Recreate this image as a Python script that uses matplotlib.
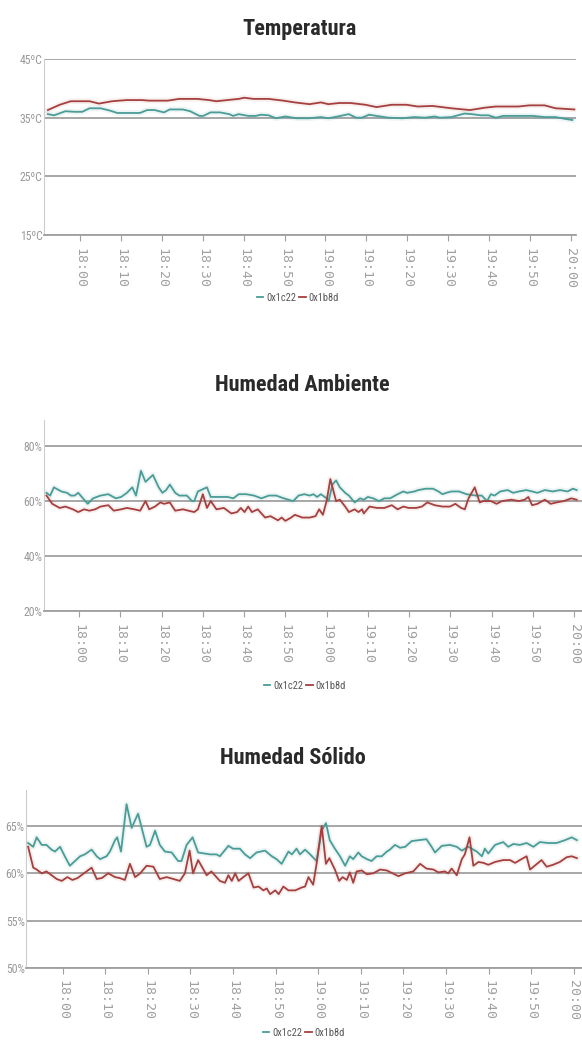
import numpy as np
import pandas as pd
import matplotlib
matplotlib.use('Agg')
import matplotlib.pyplot as plt
import matplotlib.dates as mdates
from matplotlib import font_manager

# fuente estrecha si existe
nombres = {f.name for f in font_manager.fontManager.ttflist}
fuente_titulo = 'DejaVu Sans'
for cand in ['Roboto Condensed', 'Open Sans Condensed', 'DejaVu Sans Condensed',
             'Liberation Sans Narrow', 'Roboto']:
    if cand in nombres:
        fuente_titulo = cand
        break

# minutos desde las 18:00 y valores de cada sensor
t_temp_1c22 = [-7.9, -6.4, -3.6, -1.4, 0.5, 2.3, 5.0, 7.3, 9.1, 14.6, 16.4, 18.2, 20.5, 21.9, 25.1, 26.9,
               29.2, 30.1, 31.9, 34.2, 36.5, 37.4, 38.8, 41.1, 42.9, 44.3, 46.1, 47.9, 50.2, 52.9, 56.1,
               58.9, 60.7, 63.0, 65.7, 67.5, 68.9, 70.7, 72.5, 75.3, 78.9, 81.7, 84.4, 86.7, 88.0, 90.8,
               94.0, 95.8, 98.1, 99.9, 101.7, 103.5, 108.1, 110.8, 113.6, 116.3, 118.6, 120.4]
temp_1c22 = [35.6, 35.4, 36.1, 36.0, 36.0, 36.6, 36.6, 36.2, 35.8, 35.8, 36.3, 36.3, 35.9, 36.4, 36.4, 36.1,
             35.3, 35.3, 35.9, 35.9, 35.6, 35.3, 35.6, 35.3, 35.3, 35.5, 35.4, 34.9, 35.2, 34.9, 34.9,
             35.1, 34.9, 35.2, 35.6, 35.0, 35.0, 35.5, 35.3, 35.0, 34.9, 35.1, 35.0, 35.2, 35.0, 35.1,
             35.7, 35.6, 35.4, 35.4, 35.0, 35.3, 35.3, 35.3, 35.1, 35.1, 34.8, 34.6]
t_temp_1b8d = [-7.9, -5.0, -2.3, 2.3, 4.6, 7.8, 11.4, 15.1, 16.9, 21.4, 24.2, 28.7, 31.5, 33.3, 36.0, 38.8,
               40.1, 42.4, 46.1, 49.7, 52.5, 56.1, 58.9, 60.7, 63.4, 66.1, 69.8, 72.5, 76.2, 79.8, 82.6,
               86.2, 90.8, 95.3, 96.3, 99.0, 101.7, 107.2, 109.9, 113.6, 116.3, 120.9]
temp_1b8d = [36.3, 37.2, 37.8, 37.8, 37.4, 37.8, 38.0, 38.0, 37.9, 37.9, 38.2, 38.2, 38.0, 37.8, 38.0, 38.2,
             38.4, 38.2, 38.2, 37.9, 37.6, 37.3, 37.6, 37.3, 37.5, 37.5, 37.2, 36.8, 37.2, 37.2, 36.9,
             37.0, 36.6, 36.3, 36.4, 36.7, 36.9, 36.9, 37.1, 37.1, 36.6, 36.4]

t_amb_1c22 = [-7.9, -7.0, -6.1, -4.3, -2.9, -2.0, -1.1, -0.2, 2.1, 3.4, 5.2, 7.1, 8.9, 10.2, 11.6, 12.9,
              13.8, 15.0, 16.1, 17.9, 19.3, 20.2, 21.1, 22.0, 23.3, 24.3, 26.1, 27.4, 27.9, 28.8, 31.0,
              31.9, 36.0, 37.4, 38.7, 40.5, 42.4, 44.2, 46.0, 47.8, 49.6, 51.9, 53.2, 54.6, 55.9, 56.8,
              57.7, 58.6, 60.0, 60.5, 61.4, 62.3, 63.2, 64.5, 65.4, 66.8, 68.1, 69.0, 70.0, 71.3, 72.7,
              74.0, 75.4, 77.2, 78.6, 79.5, 81.3, 82.2, 84.0, 85.8, 87.1, 88.1, 89.0, 90.3, 92.1, 93.9,
              96.2, 97.6, 98.9, 99.8, 100.7, 102.1, 103.9, 105.2, 106.6, 108.4, 109.8, 111.1, 112.9,
              114.8, 116.6, 118.4, 119.7, 120.6]
amb_1c22 = [63, 62, 65, 63.5, 63, 62, 62, 63, 59, 61, 62, 62.5, 61, 61.5, 63, 65,
            62, 71, 67, 69.5, 65, 63, 64, 66, 63, 62, 62, 60, 60, 63.5, 65,
            61.5, 61.5, 61, 62.5, 62.5, 62, 61, 62, 62, 61, 60, 62, 62.5, 62, 62.5,
            61.5, 62.5, 61, 60, 66, 67.5, 65, 63, 62, 59.5, 61, 60.5, 61.5, 61, 60,
            61, 61, 62.5, 63.5, 63, 63.5, 64, 64.5, 64.5, 63.5, 62.5, 63, 63.5, 63.5, 62.5,
            62, 62, 60, 62.5, 62, 63.5, 64, 63, 63.5, 64, 63.5, 63, 64,
            63.5, 64, 63.5, 64.5, 64]
t_amb_1b8d = [-7.9, -6.5, -4.7, -3.3, -1.5, -0.2, 1.2, 2.5, 3.9, 5.2, 7.1, 8.4, 10.2, 11.6, 13.4, 14.8,
              16.1, 17.0, 18.4, 19.7, 20.6, 22.0, 23.3, 25.2, 26.5, 27.9, 28.8, 30.0, 31.0, 31.9, 33.3,
              35.1, 36.9, 38.3, 39.2, 40.1, 41.0, 41.9, 43.3, 45.1, 46.4, 48.2, 49.1, 50.0, 51.4, 52.3,
              54.1, 55.9, 57.3, 58.2, 59.1, 60.0, 60.9, 62.3, 63.2, 64.5, 65.4, 66.8, 67.7, 68.6, 69.0,
              70.4, 72.2, 74.0, 75.8, 77.2, 78.6, 79.9, 81.7, 83.1, 84.4, 86.2, 88.1, 89.9, 91.2, 92.6,
              93.5, 94.4, 95.9, 97.1, 98.0, 99.8, 101.2, 102.5, 104.8, 106.6, 108.0, 108.9, 109.8,
              111.1, 112.9, 114.3, 115.7, 117.5, 119.3, 120.6]
amb_1b8d = [62, 59, 57.5, 58, 57, 56, 57, 56.5, 57, 58, 58.5, 56.5, 57, 57.5, 57, 56.5,
            60, 57, 58, 59.5, 59, 59.5, 56.5, 57, 56.5, 56, 57, 62.5, 57.5, 60, 57,
            57.5, 55.5, 56, 57.5, 56, 58, 56, 57, 54, 54.5, 53, 54, 52.8, 54, 55,
            54, 54, 54.5, 57, 55, 60, 68, 60, 60.5, 58, 56, 57, 56, 57, 55.5,
            58, 57.5, 57.5, 58.5, 57, 58, 57.5, 57.5, 58, 59.5, 58.5, 58, 58, 59, 57.5,
            57, 61, 65, 59.5, 60, 60, 59, 60, 60.5, 60, 60.5, 61.5, 58.5,
            59, 60.5, 59, 59.5, 60, 61, 60.5]

t_sol_1c22 = [-8.1, -6.9, -6.1, -4.9, -3.8, -2.6, -1.8, -0.6, 0.5, 1.7, 2.9, 4.1, 5.2, 6.8, 8.0, 8.8,
              10.3, 11.1, 12.3, 12.8, 13.7, 15.0, 16.2, 17.7, 19.7, 20.5, 21.7, 22.8, 24.0, 25.6, 27.1,
              27.9, 29.1, 30.5, 31.8, 34.6, 36.1, 36.9, 38.9, 40.0, 41.6, 42.8, 44.0, 45.5, 47.5, 49.1,
              50.2, 51.4, 53.0, 53.8, 54.9, 55.7, 56.9, 58.1, 59.6, 60.8, 61.8, 62.7, 63.9, 65.1, 66.3,
              67.4, 68.2, 69.4, 70.2, 71.4, 72.5, 73.7, 74.9, 76.1, 76.8, 78.0, 79.2, 80.4, 81.9, 83.5,
              85.4, 86.6, 87.4, 89.0, 90.9, 92.5, 93.7, 95.2, 97.2, 98.4, 99.1, 99.9, 101.5, 103.4,
              104.6, 105.8, 107.3, 108.9, 110.5, 112.0, 114.0, 115.9, 117.9, 119.5, 120.7]
sol_1c22 = [63.2, 62.8, 63.8, 63.0, 63.0, 62.5, 62.3, 62.8, 61.8, 60.8, 61.3, 61.8, 62.0, 62.5, 61.8, 61.5,
            61.8, 62.3, 63.5, 63.8, 62.3, 67.3, 64.8, 66.3, 62.8, 63.0, 64.5, 63.0, 62.3, 62.2, 61.3,
            61.3, 63.0, 63.8, 62.2, 62.0, 62.0, 61.8, 62.9, 62.6, 62.6, 62.0, 61.6, 62.2, 62.4, 61.8,
            61.5, 61.0, 62.3, 62.0, 62.6, 62.0, 62.5, 62.0, 61.3, 64.5, 65.3, 63.5, 62.6, 61.8, 60.8,
            61.8, 61.5, 62.2, 61.8, 61.5, 61.3, 61.8, 61.8, 62.3, 62.5, 63.0, 62.7, 62.8, 63.4, 63.5,
            63.6, 62.8, 62.2, 62.9, 63.0, 62.8, 62.4, 62.8, 62.3, 61.8, 62.6, 62.1, 63.0, 63.3,
            62.8, 63.1, 63.0, 63.2, 62.8, 63.3, 63.2, 63.2, 63.5, 63.8, 63.5]
t_sol_1b8d = [-8.1, -6.9, -6.1, -4.9, -3.8, -2.6, -1.4, -0.2, 1.1, 2.3, 3.5, 5.0, 6.2, 6.8, 8.0, 9.2,
              10.7, 12.3, 13.4, 14.6, 15.8, 17.0, 18.2, 19.7, 21.3, 22.8, 24.4, 26.0, 27.5, 28.7, 29.8,
              30.6, 31.8, 33.8, 34.9, 36.9, 38.1, 38.9, 39.7, 40.5, 41.3, 42.4, 43.6, 44.8, 46.0, 47.1,
              47.9, 48.7, 49.9, 50.7, 51.8, 53.0, 54.6, 56.1, 56.9, 57.7, 58.8, 59.6, 60.8, 61.8, 62.6,
              63.9, 64.9, 65.7, 66.7, 67.4, 68.2, 69.0, 70.2, 71.4, 72.9, 74.5, 76.1, 78.8, 80.4, 82.3,
              83.9, 85.4, 87.0, 88.2, 89.7, 90.5, 91.3, 92.5, 93.7, 94.4, 95.5, 96.4, 97.6, 98.8, 99.9,
              101.5, 103.4, 105.0, 106.2, 107.7, 108.9, 109.7, 110.8, 112.4, 113.6, 115.1, 116.7, 118.3,
              119.5, 120.7]
sol_1b8d = [62.8, 60.6, 60.4, 60.0, 60.2, 59.8, 59.4, 59.2, 59.6, 59.3, 59.5, 60.0, 60.4, 60.6, 59.4, 59.5,
            60.0, 59.6, 59.5, 59.3, 61.0, 59.6, 60.0, 60.8, 60.7, 59.4, 59.6, 59.4, 59.2, 60.0, 62.4,
            60.0, 61.4, 59.8, 60.2, 59.2, 59.0, 59.8, 59.2, 60.0, 59.2, 59.6, 60.0, 58.5, 58.6, 58.2,
            58.4, 57.8, 58.2, 57.8, 58.6, 58.2, 58.2, 58.5, 58.6, 59.6, 58.8, 61.0, 65.0, 61.0, 61.6,
            60.4, 59.2, 59.6, 59.3, 60.1, 59.0, 60.2, 60.3, 59.9, 60.0, 60.4, 60.3, 59.7, 60.0, 60.2,
            61.0, 60.5, 60.4, 60.1, 60.2, 60.0, 60.5, 59.8, 61.5, 62.0, 63.8, 60.8, 61.2, 61.1, 60.9,
            61.2, 61.4, 61.4, 61.1, 61.5, 61.8, 60.4, 60.8, 61.4, 60.7, 60.9, 61.2, 61.7,
            61.8, 61.6]

base = pd.Timestamp('2016-06-01 18:00')
def horas(m):
    return base + pd.to_timedelta(m, unit='m')

verde = '#4a9c97'
rojo = '#a5403f'
gris = '#a0a0a0'

fig = plt.figure(figsize=(5.82, 10.41), dpi=100)

paneles = [
    # titulo, y titulo, x titulo, rect, ylim, yticks, formato, series, xlim, leyenda y, leyenda x
    ('Temperatura', 29, 300, [44/582, 1-235/1041, 532/582, 176/1041], (15, 45), [15, 25, 35, 45], '{}ºC',
     (t_temp_1c22, temp_1c22, t_temp_1b8d, temp_1b8d), (-8.85, 121.3), 298, 298),
    ('Humedad Ambiente', 385, 302, [44/582, 1-611/1041, 538/582, 191/1041], (20, 89.5), [20, 40, 60, 80], '{}%',
     (t_amb_1c22, amb_1c22, t_amb_1b8d, amb_1b8d), (-8.5, 121.9), 686, 305),
    ('Humedad Sólido', 758, 293, [26/582, 1-968/1041, 556/582, 178/1041], (50, 68.8), [50, 55, 60, 65], '{}%',
     (t_sol_1c22, sol_1c22, t_sol_1b8d, sol_1b8d), (-8.6, 121.9), 1033, 304),
]

for titulo, ty, tx, rect, ylim, yticks, fmt, series, xl, ly, lx in paneles:
    ax = fig.add_axes(rect)
    t1, v1, t2, v2 = series
    for g in yticks:
        ax.axhline(g, color=gris, lw=1.3, zorder=1)
    # halo suave bajo cada linea
    ax.plot(horas(t1), v1, color=verde, lw=4, alpha=0.10, zorder=2)
    ax.plot(horas(t2), v2, color=rojo, lw=4, alpha=0.08, zorder=2)
    l1, = ax.plot(horas(t1), v1, color=verde, lw=1.3, zorder=3, label='0x1c22')
    l2, = ax.plot(horas(t2), v2, color=rojo, lw=1.3, zorder=3, label='0x1b8d')
    ax.set_ylim(*ylim)
    ax.set_xlim(horas(xl[0]), horas(xl[1]))
    ax.set_yticks(yticks)
    ax.set_yticklabels([fmt.format(v) for v in yticks])
    ax.xaxis.set_major_locator(mdates.MinuteLocator(byminute=range(0, 60, 10)))
    ax.xaxis.set_major_formatter(mdates.DateFormatter('%H:%M'))
    for s in ['top', 'right']:
        ax.spines[s].set_visible(False)
    ax.spines['left'].set_color('#cccccc')
    ax.spines['left'].set_linewidth(0.8)
    ax.spines['bottom'].set_color(gris)
    ax.spines['bottom'].set_linewidth(1.3)
    ax.tick_params(axis='y', length=0, pad=1, labelsize=8.5, labelcolor='#999999')
    ax.tick_params(axis='x', length=4, width=0.8, color=gris, pad=5, labelsize=9.5,
                   labelcolor='#a0a0a0', labelrotation=-90)
    for lab in ax.get_yticklabels():
        lab.set_fontfamily(fuente_titulo)
    for lab in ax.get_xticklabels():
        lab.set_fontfamily('DejaVu Sans Mono')
        lab.set_va('top')
    fig.text(tx/582, 1 - ty/1041, titulo,
             ha='center', va='center', fontsize=16, fontweight='bold', color='#2a2a2a',
             family=fuente_titulo)
    leg = fig.legend(handles=[l1, l2], loc='center', bbox_to_anchor=(lx/582, 1 - ly/1041),
                     ncol=2, frameon=False, fontsize=7.5, handlelength=0.6, handletextpad=0.3,
                     columnspacing=0.3, borderaxespad=0)
    for txt in leg.get_texts():
        txt.set_color('#555555')
        txt.set_family(fuente_titulo)

fig.savefig('out.png', dpi=100)
